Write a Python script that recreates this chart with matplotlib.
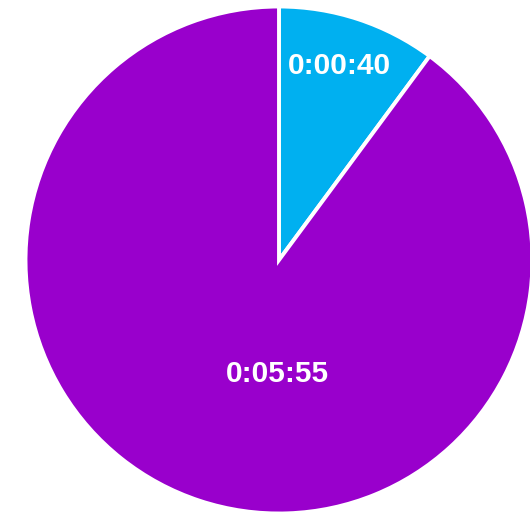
import matplotlib
matplotlib.use("Agg")
import matplotlib.pyplot as plt

# durations in seconds
labels = ["0:00:40", "0:05:55"]
seconds = [40, 355]
colors = ["#00B0F0", "#9900CC"]
label_pos = [(0.237, 0.765), (-0.006, -0.448)]

fig = plt.figure(figsize=(5.3, 5.14), dpi=100)
# pie centre at (279, 260) px, radius 253.5 px
cx, cy, r = 279, 260, 253.5
ax = fig.add_axes([(cx - r) / 530, (514 - cy - r) / 514, 2 * r / 530, 2 * r / 514])

ax.pie(seconds, colors=colors, startangle=90, counterclock=False,
       wedgeprops=dict(edgecolor="white", linewidth=2.8))
ax.set_xlim(-1, 1)
ax.set_ylim(-1, 1)
ax.set_aspect("equal")

for txt, (x, y) in zip(labels, label_pos):
    ax.text(x, y, txt, ha="center", va="center", color="white",
            fontsize=21.5, fontweight="bold", family="Liberation Sans")

fig.savefig("out.png", dpi=100)
